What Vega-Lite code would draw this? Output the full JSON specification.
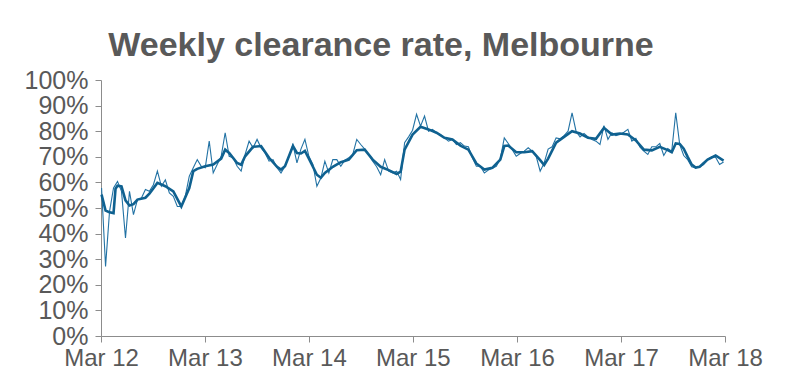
{
  "$schema": "https://vega.github.io/schema/vega-lite/v6.json",
  "width": 624,
  "height": 256,
  "autosize": "none",
  "padding": {"left": 101, "top": 80, "right": 62, "bottom": 54},
  "background": "white",
  "title": {
    "text": "Weekly clearance rate, Melbourne",
    "font": "Liberation Sans",
    "fontSize": 34,
    "fontWeight": "bold",
    "color": "#595959",
    "anchor": "middle",
    "dx": -32,
    "baseline": "alphabetic",
    "offset": -22
  },
  "config": {
    "view": {"stroke": null},
    "axis": {
      "domainColor": "#8c8c8c",
      "tickColor": "#8c8c8c",
      "labelColor": "#595959",
      "labelFont": "Liberation Sans",
      "labelFontSize": 24,
      "grid": false,
      "title": null
    }
  },
  "datasets": {
    "weekly": [
      {"date": "2012-03-03", "rate": 57.8}, {"date": "2012-03-17", "rate": 27.2}, {"date": "2012-03-31", "rate": 48.7},
      {"date": "2012-04-14", "rate": 57.8}, {"date": "2012-04-28", "rate": 60.4}, {"date": "2012-05-12", "rate": 56.5},
      {"date": "2012-05-26", "rate": 38.3}, {"date": "2012-06-09", "rate": 56.5}, {"date": "2012-06-23", "rate": 47.4},
      {"date": "2012-07-07", "rate": 53.3}, {"date": "2012-07-21", "rate": 53.9}, {"date": "2012-08-04", "rate": 57.2},
      {"date": "2012-08-18", "rate": 56.5}, {"date": "2012-09-01", "rate": 59.1}, {"date": "2012-09-15", "rate": 64.4},
      {"date": "2012-09-29", "rate": 58.5}, {"date": "2012-10-13", "rate": 61.0}, {"date": "2012-10-27", "rate": 55.9},
      {"date": "2012-11-10", "rate": 54.6}, {"date": "2012-11-24", "rate": 50.6}, {"date": "2012-12-08", "rate": 50.6},
      {"date": "2012-12-22", "rate": 54.6}, {"date": "2013-01-05", "rate": 62.4}, {"date": "2013-01-19", "rate": 65.7},
      {"date": "2013-02-02", "rate": 68.9}, {"date": "2013-02-16", "rate": 66.3}, {"date": "2013-03-02", "rate": 65.7},
      {"date": "2013-03-16", "rate": 76.1}, {"date": "2013-03-30", "rate": 63.7}, {"date": "2013-04-13", "rate": 67.0},
      {"date": "2013-04-27", "rate": 70.2}, {"date": "2013-05-11", "rate": 79.4}, {"date": "2013-05-25", "rate": 70.2},
      {"date": "2013-06-08", "rate": 69.6}, {"date": "2013-06-22", "rate": 66.3}, {"date": "2013-07-06", "rate": 64.4},
      {"date": "2013-07-20", "rate": 70.9}, {"date": "2013-08-03", "rate": 76.1}, {"date": "2013-08-17", "rate": 73.5},
      {"date": "2013-08-31", "rate": 76.8}, {"date": "2013-09-14", "rate": 73.5}, {"date": "2013-09-28", "rate": 71.5},
      {"date": "2013-10-12", "rate": 68.3}, {"date": "2013-10-26", "rate": 68.9}, {"date": "2013-11-09", "rate": 65.7},
      {"date": "2013-11-23", "rate": 63.7}, {"date": "2013-12-07", "rate": 66.3}, {"date": "2013-12-21", "rate": 70.2},
      {"date": "2014-01-04", "rate": 74.8}, {"date": "2014-01-18", "rate": 67.6}, {"date": "2014-02-01", "rate": 73.0},
      {"date": "2014-02-15", "rate": 76.8}, {"date": "2014-03-01", "rate": 70.2}, {"date": "2014-03-15", "rate": 67.0},
      {"date": "2014-03-29", "rate": 58.5}, {"date": "2014-04-12", "rate": 61.7}, {"date": "2014-04-26", "rate": 68.3},
      {"date": "2014-05-10", "rate": 63.7}, {"date": "2014-05-24", "rate": 68.9}, {"date": "2014-06-07", "rate": 68.9},
      {"date": "2014-06-21", "rate": 66.3}, {"date": "2014-07-05", "rate": 68.7}, {"date": "2014-07-19", "rate": 69.6},
      {"date": "2014-08-02", "rate": 70.9}, {"date": "2014-08-16", "rate": 76.8}, {"date": "2014-08-30", "rate": 74.8},
      {"date": "2014-09-13", "rate": 73.0}, {"date": "2014-09-27", "rate": 70.9}, {"date": "2014-10-11", "rate": 68.3},
      {"date": "2014-10-25", "rate": 66.1}, {"date": "2014-11-08", "rate": 63.0}, {"date": "2014-11-22", "rate": 68.9},
      {"date": "2014-12-06", "rate": 64.4}, {"date": "2014-12-20", "rate": 63.7}, {"date": "2015-01-03", "rate": 64.4},
      {"date": "2015-01-17", "rate": 61.1}, {"date": "2015-01-31", "rate": 75.5}, {"date": "2015-02-14", "rate": 77.8},
      {"date": "2015-02-28", "rate": 80.4}, {"date": "2015-03-14", "rate": 86.6}, {"date": "2015-03-28", "rate": 82.0},
      {"date": "2015-04-11", "rate": 85.9}, {"date": "2015-04-25", "rate": 80.0}, {"date": "2015-05-09", "rate": 80.7},
      {"date": "2015-05-23", "rate": 79.4}, {"date": "2015-06-06", "rate": 78.7}, {"date": "2015-06-20", "rate": 77.4},
      {"date": "2015-07-04", "rate": 76.1}, {"date": "2015-07-18", "rate": 76.8}, {"date": "2015-08-01", "rate": 74.8},
      {"date": "2015-08-15", "rate": 75.5}, {"date": "2015-08-29", "rate": 74.2}, {"date": "2015-09-12", "rate": 73.9},
      {"date": "2015-09-26", "rate": 69.6}, {"date": "2015-10-10", "rate": 66.3}, {"date": "2015-10-24", "rate": 66.3},
      {"date": "2015-11-07", "rate": 63.7}, {"date": "2015-11-21", "rate": 64.8}, {"date": "2015-12-05", "rate": 65.5},
      {"date": "2015-12-19", "rate": 66.3}, {"date": "2016-01-02", "rate": 69.2}, {"date": "2016-01-16", "rate": 77.4},
      {"date": "2016-01-30", "rate": 75.2}, {"date": "2016-02-13", "rate": 72.8}, {"date": "2016-02-27", "rate": 70.2},
      {"date": "2016-03-12", "rate": 71.3}, {"date": "2016-03-26", "rate": 72.2}, {"date": "2016-04-09", "rate": 73.5},
      {"date": "2016-04-23", "rate": 72.2}, {"date": "2016-05-07", "rate": 70.2}, {"date": "2016-05-21", "rate": 64.4},
      {"date": "2016-06-04", "rate": 67.6}, {"date": "2016-06-18", "rate": 73.0}, {"date": "2016-07-02", "rate": 73.9},
      {"date": "2016-07-16", "rate": 77.4}, {"date": "2016-07-30", "rate": 77.0}, {"date": "2016-08-13", "rate": 78.3},
      {"date": "2016-08-27", "rate": 80.0}, {"date": "2016-09-10", "rate": 87.2}, {"date": "2016-09-24", "rate": 80.0},
      {"date": "2016-10-08", "rate": 77.8}, {"date": "2016-10-22", "rate": 79.1}, {"date": "2016-11-05", "rate": 77.8},
      {"date": "2016-11-19", "rate": 76.8}, {"date": "2016-12-03", "rate": 76.1}, {"date": "2016-12-17", "rate": 74.8},
      {"date": "2016-12-31", "rate": 82.2}, {"date": "2017-01-14", "rate": 76.8}, {"date": "2017-01-28", "rate": 79.4},
      {"date": "2017-02-11", "rate": 78.3}, {"date": "2017-02-25", "rate": 78.7}, {"date": "2017-03-11", "rate": 79.6},
      {"date": "2017-03-25", "rate": 80.7}, {"date": "2017-04-08", "rate": 76.1}, {"date": "2017-04-22", "rate": 77.2},
      {"date": "2017-05-06", "rate": 73.9}, {"date": "2017-05-20", "rate": 72.2}, {"date": "2017-06-03", "rate": 70.9},
      {"date": "2017-06-17", "rate": 73.9}, {"date": "2017-07-01", "rate": 73.9}, {"date": "2017-07-15", "rate": 75.2},
      {"date": "2017-07-29", "rate": 70.5}, {"date": "2017-08-12", "rate": 73.2}, {"date": "2017-08-26", "rate": 72.2},
      {"date": "2017-09-09", "rate": 87.2}, {"date": "2017-09-23", "rate": 74.8}, {"date": "2017-10-07", "rate": 70.5},
      {"date": "2017-10-21", "rate": 68.9}, {"date": "2017-11-04", "rate": 66.1}, {"date": "2017-11-18", "rate": 65.7},
      {"date": "2017-12-02", "rate": 66.1}, {"date": "2017-12-16", "rate": 67.0}, {"date": "2017-12-30", "rate": 68.9},
      {"date": "2018-01-13", "rate": 70.0}, {"date": "2018-01-27", "rate": 69.8}, {"date": "2018-02-10", "rate": 67.0},
      {"date": "2018-02-24", "rate": 68.0}
    ],
    "average": [
      {"date": "2012-03-03", "rate": 55.2}, {"date": "2012-03-17", "rate": 49.0}, {"date": "2012-03-31", "rate": 48.3},
      {"date": "2012-04-14", "rate": 48.0}, {"date": "2012-04-21", "rate": 57.5}, {"date": "2012-04-28", "rate": 58.7},
      {"date": "2012-05-12", "rate": 58.4}, {"date": "2012-05-26", "rate": 53.0},
      {"date": "2012-06-09", "rate": 51.0}, {"date": "2012-06-23", "rate": 51.5}, {"date": "2012-07-07", "rate": 53.3},
      {"date": "2012-08-04", "rate": 54.0}, {"date": "2012-08-18", "rate": 55.6}, {"date": "2012-09-15", "rate": 59.8},
      {"date": "2012-10-13", "rate": 58.5}, {"date": "2012-11-10", "rate": 56.5}, {"date": "2012-12-08", "rate": 50.6},
      {"date": "2013-01-05", "rate": 57.8}, {"date": "2013-01-19", "rate": 64.4}, {"date": "2013-02-02", "rate": 65.3},
      {"date": "2013-03-02", "rate": 66.3}, {"date": "2013-03-30", "rate": 67.0},
      {"date": "2013-04-27", "rate": 69.3}, {"date": "2013-05-11", "rate": 72.8}, {"date": "2013-05-25", "rate": 71.5},
      {"date": "2013-06-22", "rate": 67.6}, {"date": "2013-07-06", "rate": 66.9}, {"date": "2013-07-20", "rate": 70.2},
      {"date": "2013-08-17", "rate": 73.9}, {"date": "2013-09-14", "rate": 74.2}, {"date": "2013-10-12", "rate": 69.6},
      {"date": "2013-11-09", "rate": 66.1}, {"date": "2013-11-23", "rate": 65.0}, {"date": "2013-12-07", "rate": 66.3},
      {"date": "2014-01-04", "rate": 74.2}, {"date": "2014-01-18", "rate": 71.5}, {"date": "2014-02-01", "rate": 71.3},
      {"date": "2014-02-15", "rate": 72.3}, {"date": "2014-03-01", "rate": 69.3}, {"date": "2014-03-29", "rate": 63.0},
      {"date": "2014-04-12", "rate": 61.8}, {"date": "2014-04-26", "rate": 63.7}, {"date": "2014-05-24", "rate": 66.1},
      {"date": "2014-06-21", "rate": 67.9}, {"date": "2014-07-19", "rate": 68.9}, {"date": "2014-08-16", "rate": 72.6},
      {"date": "2014-09-13", "rate": 72.8}, {"date": "2014-10-11", "rate": 68.9}, {"date": "2014-11-08", "rate": 66.1},
      {"date": "2014-12-06", "rate": 64.8}, {"date": "2015-01-03", "rate": 63.3}, {"date": "2015-01-17", "rate": 64.2},
      {"date": "2015-01-31", "rate": 72.8}, {"date": "2015-02-28", "rate": 78.7}, {"date": "2015-03-28", "rate": 81.7},
      {"date": "2015-04-25", "rate": 80.7}, {"date": "2015-05-23", "rate": 79.4}, {"date": "2015-06-20", "rate": 77.4},
      {"date": "2015-07-18", "rate": 76.8}, {"date": "2015-08-15", "rate": 74.4}, {"date": "2015-09-12", "rate": 72.8},
      {"date": "2015-10-10", "rate": 67.4}, {"date": "2015-11-07", "rate": 65.0}, {"date": "2015-12-05", "rate": 65.7},
      {"date": "2016-01-02", "rate": 68.9}, {"date": "2016-01-16", "rate": 74.2}, {"date": "2016-01-30", "rate": 74.4},
      {"date": "2016-02-27", "rate": 71.8}, {"date": "2016-03-26", "rate": 71.8}, {"date": "2016-04-23", "rate": 72.2},
      {"date": "2016-05-21", "rate": 68.7}, {"date": "2016-06-04", "rate": 66.8}, {"date": "2016-06-18", "rate": 69.3},
      {"date": "2016-07-16", "rate": 75.5}, {"date": "2016-08-13", "rate": 77.8}, {"date": "2016-09-10", "rate": 80.0},
      {"date": "2016-10-08", "rate": 79.1}, {"date": "2016-11-05", "rate": 77.4}, {"date": "2016-12-03", "rate": 77.0},
      {"date": "2016-12-31", "rate": 81.3}, {"date": "2017-01-28", "rate": 78.7}, {"date": "2017-02-25", "rate": 79.1},
      {"date": "2017-03-25", "rate": 78.7}, {"date": "2017-04-22", "rate": 76.4}, {"date": "2017-05-20", "rate": 72.8},
      {"date": "2017-06-17", "rate": 72.5}, {"date": "2017-07-15", "rate": 73.9}, {"date": "2017-08-12", "rate": 72.6},
      {"date": "2017-08-26", "rate": 71.8}, {"date": "2017-09-09", "rate": 75.2}, {"date": "2017-09-23", "rate": 75.0},
      {"date": "2017-10-07", "rate": 73.2}, {"date": "2017-10-21", "rate": 70.0}, {"date": "2017-11-04", "rate": 67.0},
      {"date": "2017-11-18", "rate": 65.8}, {"date": "2017-12-02", "rate": 66.1}, {"date": "2017-12-30", "rate": 68.9},
      {"date": "2018-01-27", "rate": 70.5}, {"date": "2018-02-24", "rate": 68.5}
    ]
  },
  "encoding": {
    "x": {
      "field": "date",
      "type": "temporal",
      "scale": {"type": "utc", "domain": ["2012-03-01", "2018-03-01"]},
      "axis": {
        "values": ["2012-03-01", "2013-03-01", "2014-03-01", "2015-03-01", "2016-03-01", "2017-03-01", "2018-03-01"],
        "labelExpr": "utcFormat(datum.value, '%b %y')",
        "tickSize": 6,
        "labelPadding": 4,
        "labelOverlap": false,
        "labelFlush": false
      }
    },
    "y": {
      "field": "rate",
      "type": "quantitative",
      "scale": {"domain": [0, 100], "nice": false},
      "axis": {
        "values": [0, 10, 20, 30, 40, 50, 60, 70, 80, 90, 100],
        "labelExpr": "datum.value + '%'",
        "labelFontSize": 25,
        "tickSize": 6,
        "labelPadding": 7,
        "labelOverlap": false,
        "labelFlush": false
      }
    }
  },
  "layer": [
    {
      "data": {"name": "weekly"},
      "mark": {"type": "line", "stroke": "#2272a4", "strokeWidth": 1.1, "interpolate": "linear"}
    },
    {
      "data": {"name": "average"},
      "mark": {"type": "line", "stroke": "#0f6190", "strokeWidth": 2.6, "interpolate": "linear"}
    }
  ]
}
